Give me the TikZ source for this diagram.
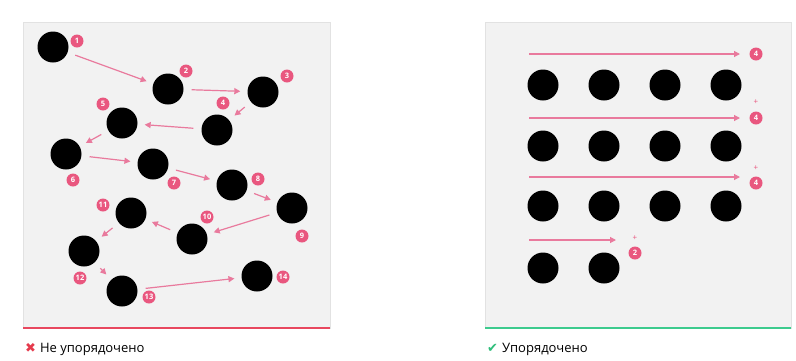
\documentclass[tikz,border=0pt]{standalone}
\usepackage{fontspec}
\setmainfont{Open Sans}
\newfontfamily\symfont{DejaVu Sans}
\usetikzlibrary{arrows.meta}
\definecolor{panelgray}{HTML}{F2F2F2}
\definecolor{panelline}{HTML}{E2E2E2}
\definecolor{arrowpink}{HTML}{E97A9D}
\definecolor{tagpink}{HTML}{E9577F}
\definecolor{badred}{HTML}{E8485F}
\definecolor{goodgreen}{HTML}{3DCB8E}
\definecolor{crossred}{HTML}{E53A4C}
\definecolor{checkgreen}{HTML}{2FBE7B}
\begin{document}
\begin{tikzpicture}[x=1pt, y=-1pt,
  panel/.style={fill=panelgray, draw=panelline, line width=0.8pt},
  ball/.style={circle, fill=black, minimum size=31pt, inner sep=0pt},
  tag/.style={circle, fill=tagpink, text=white, minimum size=13pt, inner sep=0pt, font=\fontsize{7.5}{7.5}\selectfont\bfseries},
  plus/.style={text=tagpink, inner sep=0pt, font=\fontsize{8}{8}\selectfont},
  arrow/.style={-{Triangle[length=6pt,width=6pt]}, draw=arrowpink, line width=1.2pt, shorten <=8pt, shorten >=7pt},
  rowarrow/.style={-{Triangle[length=6pt,width=6pt]}, draw=arrowpink, line width=1.2pt},
  caption/.style={anchor=west, font=\fontsize{13}{13}\selectfont, inner sep=0pt}
]
\useasboundingbox (0,0) rectangle (796,360);
\fill[white] (0,0) rectangle (796,360);

% Left panel: unordered
\draw[panel] (23,22) rectangle (330,328);
\draw[badred, line width=2.5pt] (23,328) -- (330,328);
\node[ball] (b1) at (53,47) {};
\node[ball] (b2) at (168,89) {};
\node[ball] (b3) at (263,92) {};
\node[ball] (b4) at (217,130) {};
\node[ball] (b5) at (122,123) {};
\node[ball] (b6) at (66,154) {};
\node[ball] (b7) at (153,164) {};
\node[ball] (b8) at (232,185) {};
\node[ball] (b9) at (292,208) {};
\node[ball] (b10) at (192,239) {};
\node[ball] (b11) at (131,213) {};
\node[ball] (b12) at (84,251) {};
\node[ball] (b13) at (122,291) {};
\node[ball] (b14) at (257,276) {};

\node[tag] (t1) at (77,41) {1};
\node[tag] (t2) at (186,71) {2};
\node[tag] (t3) at (287,76) {3};
\node[tag] (t4) at (223,103) {4};
\node[tag] (t5) at (103,104) {5};
\node[tag] (t6) at (73,180) {6};
\node[tag] (t7) at (174,183) {7};
\node[tag] (t8) at (258,179) {8};
\node[tag] (t9) at (302,236) {9};
\node[tag] (t10) at (207,217) {10};
\node[tag] (t11) at (103,205) {11};
\node[tag] (t12) at (80,278) {12};
\node[tag] (t13) at (149,297) {13};
\node[tag] (t14) at (283,277) {14};

\draw[arrow] (b1) -- (b2);
\draw[arrow] (b2) -- (b3);
\draw[arrow] (b3) -- (b4);
\draw[arrow] (b4) -- (b5);
\draw[arrow] (b5) -- (b6);
\draw[arrow] (b6) -- (b7);
\draw[arrow] (b7) -- (b8);
\draw[arrow] (b8) -- (b9);
\draw[arrow] (b9) -- (b10);
\draw[arrow] (b10) -- (b11);
\draw[arrow] (b11) -- (b12);
\draw[arrow] (b12) -- (b13);
\draw[arrow] (b13) -- (b14);

\node[caption] (bad) at (25,349) {{\symfont\color{crossred}✖}\hspace{4pt}Не упорядочено};

% Right panel: ordered
\draw[panel] (485,22) rectangle (791,328);
\draw[goodgreen, line width=2.5pt] (485,328) -- (791,328);
\node[ball] (g11) at (543,85) {};
\node[ball] (g12) at (604,85) {};
\node[ball] (g13) at (665,85) {};
\node[ball] (g14) at (726,85) {};
\node[ball] (g21) at (543,146) {};
\node[ball] (g22) at (604,146) {};
\node[ball] (g23) at (665,146) {};
\node[ball] (g24) at (726,146) {};
\node[ball] (g31) at (543,206) {};
\node[ball] (g32) at (604,206) {};
\node[ball] (g33) at (665,206) {};
\node[ball] (g34) at (726,206) {};
\node[ball] (g41) at (543,268) {};
\node[ball] (g42) at (604,268) {};

\coordinate (r1s) at (529,54);  \coordinate (r1e) at (740,54);
\coordinate (r2s) at (529,118); \coordinate (r2e) at (740,118);
\coordinate (r3s) at (529,177); \coordinate (r3e) at (740,177);
\coordinate (r4s) at (529,240); \coordinate (r4e) at (616,240);
\draw[rowarrow] (r1s) -- (r1e);
\draw[rowarrow] (r2s) -- (r2e);
\draw[rowarrow] (r3s) -- (r3e);
\draw[rowarrow] (r4s) -- (r4e);

\node[tag] (s1) at (756,54) {4};
\node[plus] (p2) at (756,102) {+};
\node[tag] (s2) at (756,118) {4};
\node[plus] (p3) at (756,168) {+};
\node[tag] (s3) at (756,183) {4};
\node[plus] (p4) at (635,238) {+};
\node[tag] (s4) at (635,253) {2};

\node[caption] (good) at (487,349) {{\symfont\color{checkgreen}✔}\hspace{4pt}Упорядочено};
\end{tikzpicture}
\end{document}
